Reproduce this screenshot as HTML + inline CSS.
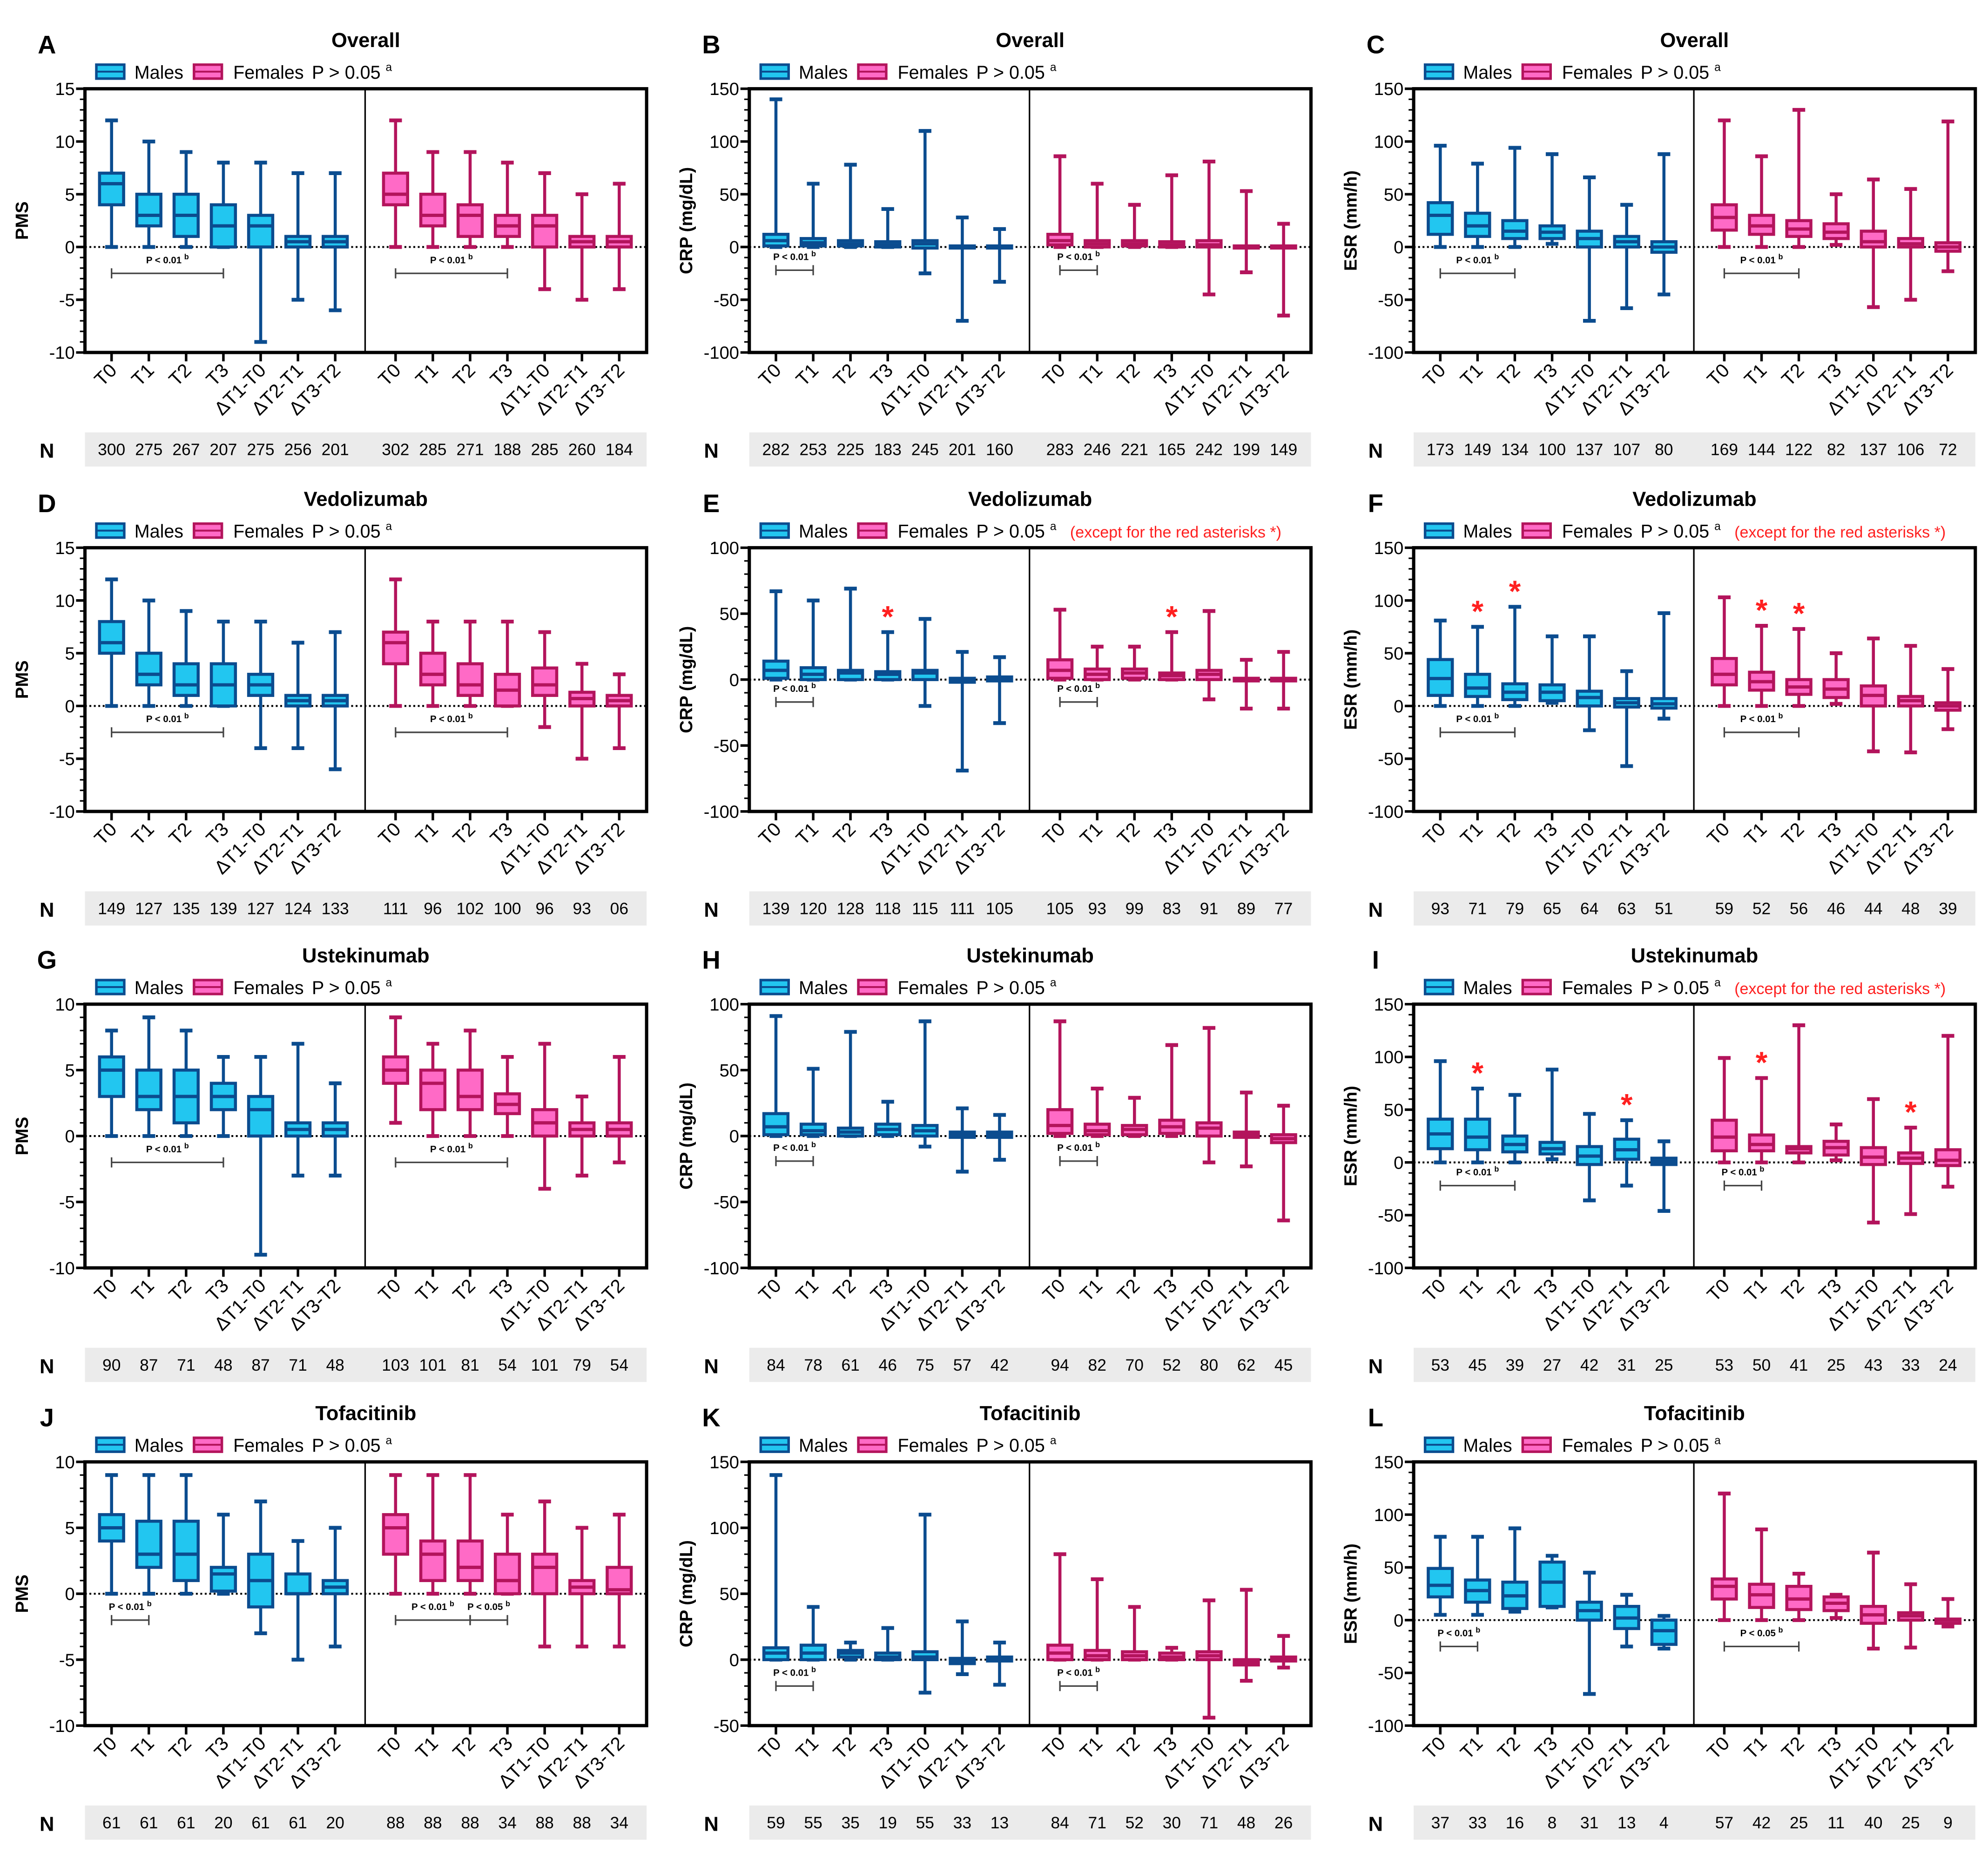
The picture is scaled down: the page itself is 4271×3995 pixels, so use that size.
<!DOCTYPE html>
<html><head><meta charset="utf-8"><style>
html,body{margin:0;padding:0;background:#fff;}
svg{display:block;font-family:"Liberation Sans",sans-serif;}
</style></head><body>
<svg id="fig" width="4271" height="3995" viewBox="0 0 1568 1467" preserveAspectRatio="none" xmlns="http://www.w3.org/2000/svg"></svg>
<script>
const categories = ["T0","T1","T2","T3","ΔT1-T0","ΔT2-T1","ΔT3-T2"];
// [min, q1, median, q3, max]
const A_males=[[0,4,6,7,12],[0,2,3,5,10],[0,1,3,5,9],[0,0,2,4,8],[-9,0,2,3,8],[-5,0,0.5,1,7],[-6,0,0.5,1,7]];
const A_females=[[0,4,5,7,12],[0,2,3,5,9],[0,1,3,4,9],[0,1,2,3,8],[-4,0,2,3,7],[-5,0,0.5,1,5],[-4,0,0.5,1,6]];
const B_males=[[0,1,6,12,140],[0,1,4,8,60],[0,1,3,6,78],[0,0,2,5,36],[-25,-1,3,6,110],[-70,-1,0,1,28],[-33,-1,0,1,17]];
const B_females=[[0,2,6,12,86],[0,0,3,6,60],[0,1,3,6,40],[0,0,2,5,68],[-45,0,2,6,81],[-24,-1,0,1,53],[-65,-1,0,1,22]];
const C_males=[[0,12,30,42,96],[0,10,20,32,79],[0,8,15,25,94],[3,8,14,20,88],[-70,0,8,15,66],[-58,0,5,10,40],[-45,-5,0,5,88]];
const C_females=[[0,16,28,40,120],[0,12,20,30,86],[0,10,17,25,130],[2,8,14,22,50],[-57,0,5,15,64],[-50,0,3,8,55],[-23,-4,0,4,119]];
const D_males=[[0,5,6,8,12],[0,2,3,5,10],[0,1,2,4,9],[0,0,2,4,8],[-4,1,2,3,8],[-4,0,0.5,1,6],[-6,0,0.5,1,7]];
const D_females=[[0,4,6,7,12],[0,2,3,5,8],[0,1,2,4,8],[0,0,1.5,3,8],[-2,1,2,3.6,7],[-5,0,0.7,1.3,4],[-4,0,0.5,1,3]];
const E_males=[[0,1,7,14,67],[0,0,4,9,60],[0,0,5,7,69],[0,0,4,6,36],[-20,0,5,7,46],[-69,-2,-1,1,21],[-33,-1,0,2,17]];
const E_females=[[0,1,7,15,53],[0,0,4,8,25],[0,1,5,8,25],[0,0,3,5,36],[-15,0,4,7,52],[-22,-1,0,1,15],[-22,-1,0,1,21]];
const F_males=[[0,10,26,44,81],[0,9,17,30,75],[0,6,13,21,94],[3,5,13,20,66],[-23,0,8,14,66],[-57,-1,3,7,33],[-12,-2,2,7,88]];
const F_females=[[0,20,30,45,103],[0,15,23,32,76],[0,11,18,25,73],[2,8,16,25,50],[-43,0,10,19,64],[-44,0,5,9,57],[-22,-4,0,3,35]];
const G_males=[[0,3,5,6,8],[0,2,3,5,9],[0,1,3,5,8],[0,2,3,4,6],[-9,0,2,3,6],[-3,0,0.5,1,7],[-3,0,0.5,1,4]];
const G_females=[[1,4,5,6,9],[0,2,4,5,7],[0,2,3,5,8],[0,1.7,2.4,3.2,6],[-4,0,1,2,7],[-3,0,0.5,1,3],[-2,0,0.5,1,6]];
const H_males=[[0,1,7,17,91],[0,1,4,9,51],[0,0,3,6,79],[0,1,5,9,26],[-8,0,4,8,87],[-27,-1,1,3,21],[-18,-1,1,3,16]];
const H_females=[[0,2,8,20,87],[0,1,4,9,36],[0,1,5,8,29],[0,2,7,12,69],[-20,0,6,10,82],[-23,-1,1,3,33],[-64,-5,-2,1,23]];
const I_males=[[0,13,27,41,96],[0,12,24,41,70],[0,10,17,25,64],[3,8,13,19,88],[-36,-2,6,15,46],[-22,3,12,22,40],[-46,-2,1,4,20]];
const I_females=[[0,11,24,40,99],[0,11,17,26,80],[0,9,13,15,130],[2,7,14,20,36],[-57,-2,5,14,60],[-49,-1,4,9,33],[-23,-3,2,12,120]];
const J_males=[[0,4,5,6,9],[0,2,3,5.5,9],[0,1,3,5.5,9],[0,0.2,1.5,2,6],[-3,-1,1,3,7],[-5,0,0,1.5,4],[-4,0,0.5,1,5]];
const J_females=[[0,3,5,6,9],[0,1,3,4,9],[0,1,2,4,9],[0,0,1,3,6],[-4,0,2,3,7],[-4,0,0.5,1,5],[-4,0,0.3,2,6]];
const K_males=[[0,0,5,9,140],[0,0,5,11,40],[0,2,5,7,13],[0,0,2,5,24],[-25,0,2,6,110],[-11,-3,-1,1,29],[-19,-1,0,2,13]];
const K_females=[[0,0,5,11,80],[0,0,3,7,61],[0,0,3,6,40],[0,0,2,5,9],[-44,0,3,6,45],[-16,-4,-2,0,53],[-6,-1,0,2,18]];
const L_males=[[5,22,33,49,79],[5,17,28,38,79],[8,11,23,36,87],[12,13,36,55,61],[-70,0,9,17,45],[-25,-8,2,13,24],[-27,-23,-10,0,4]];
const L_females=[[0,20,32,39,120],[0,12,24,34,86],[0,10,20,32,44],[2,9,16,22,24],[-27,-3,5,13,64],[-26,0,4,7,34],[-6,-3,0,1,20]];
const A_n=[["300","275","267","207","275","256","201"],["302","285","271","188","285","260","184"]];
const B_n=[["282","253","225","183","245","201","160"],["283","246","221","165","242","199","149"]];
const C_n=[["173","149","134","100","137","107","80"],["169","144","122","82","137","106","72"]];
const D_n=[["149","127","135","139","127","124","133"],["111","96","102","100","96","93","06"]];
const E_n=[["139","120","128","118","115","111","105"],["105","93","99","83","91","89","77"]];
const F_n=[["93","71","79","65","64","63","51"],["59","52","56","46","44","48","39"]];
const G_n=[["90","87","71","48","87","71","48"],["103","101","81","54","101","79","54"]];
const H_n=[["84","78","61","46","75","57","42"],["94","82","70","52","80","62","45"]];
const I_n=[["53","45","39","27","42","31","25"],["53","50","41","25","43","33","24"]];
const J_n=[["61","61","61","20","61","61","20"],["88","88","88","34","88","88","34"]];
const K_n=[["59","55","35","19","55","33","13"],["84","71","52","30","71","48","26"]];
const L_n=[["37","33","16","8","31","13","4"],["57","42","25","11","40","25","9"]];

const NS="http://www.w3.org/2000/svg";
const svg=document.getElementById('fig');
function mk(tag,attrs,parent){const e=document.createElementNS(NS,tag);for(const k in attrs)e.setAttribute(k,attrs[k]);(parent||svg).appendChild(e);return e;}
const colX=[67,591,1115], rowY=[70,432,792,1153], PW=443, PH=208;
const MC={fill:"#22c6f0",stroke:"#0b4c8f"}, FC={fill:"#ff6ac6",stroke:"#b3145c"};

const panels=[
 {id:"A",title:"Overall",yl:"PMS",min:-10,max:15,step:5,c:0,r:0,red:false,m:A_males,f:A_females,n:A_n,br:[[0,0,3,-2.5,"P < 0.01"],[1,0,3,-2.5,"P < 0.01"]],ast:[]},
 {id:"B",title:"Overall",yl:"CRP (mg/dL)",min:-100,max:150,step:50,c:1,r:0,red:false,m:B_males,f:B_females,n:B_n,br:[[0,0,1,-22,"P < 0.01"],[1,0,1,-22,"P < 0.01"]],ast:[]},
 {id:"C",title:"Overall",yl:"ESR (mm/h)",min:-100,max:150,step:50,c:2,r:0,red:false,m:C_males,f:C_females,n:C_n,br:[[0,0,2,-25,"P < 0.01"],[1,0,2,-25,"P < 0.01"]],ast:[]},
 {id:"D",title:"Vedolizumab",yl:"PMS",min:-10,max:15,step:5,c:0,r:1,red:false,m:D_males,f:D_females,n:D_n,br:[[0,0,3,-2.5,"P < 0.01"],[1,0,3,-2.5,"P < 0.01"]],ast:[]},
 {id:"E",title:"Vedolizumab",yl:"CRP (mg/dL)",min:-100,max:100,step:50,c:1,r:1,red:true,m:E_males,f:E_females,n:E_n,br:[[0,0,1,-17,"P < 0.01"],[1,0,1,-17,"P < 0.01"]],ast:[[0,3],[1,3]]},
 {id:"F",title:"Vedolizumab",yl:"ESR (mm/h)",min:-100,max:150,step:50,c:2,r:1,red:true,m:F_males,f:F_females,n:F_n,br:[[0,0,2,-25,"P < 0.01"],[1,0,2,-25,"P < 0.01"]],ast:[[0,1],[0,2],[1,1],[1,2]]},
 {id:"G",title:"Ustekinumab",yl:"PMS",min:-10,max:10,step:5,c:0,r:2,red:false,m:G_males,f:G_females,n:G_n,br:[[0,0,3,-2,"P < 0.01"],[1,0,3,-2,"P < 0.01"]],ast:[]},
 {id:"H",title:"Ustekinumab",yl:"CRP (mg/dL)",min:-100,max:100,step:50,c:1,r:2,red:false,m:H_males,f:H_females,n:H_n,br:[[0,0,1,-19,"P < 0.01"],[1,0,1,-19,"P < 0.01"]],ast:[]},
 {id:"I",title:"Ustekinumab",yl:"ESR (mm/h)",min:-100,max:150,step:50,c:2,r:2,red:true,m:I_males,f:I_females,n:I_n,br:[[0,0,2,-22,"P < 0.01"],[1,0,1,-22,"P < 0.01"]],ast:[[0,1],[0,5],[1,1],[1,5]]},
 {id:"J",title:"Tofacitinib",yl:"PMS",min:-10,max:10,step:5,c:0,r:3,red:false,m:J_males,f:J_females,n:J_n,br:[[0,0,1,-2,"P < 0.01"],[1,0,2,-2,"P < 0.01"],[1,2,3,-2,"P < 0.05"]],ast:[]},
 {id:"K",title:"Tofacitinib",yl:"CRP (mg/dL)",min:-50,max:150,step:50,c:1,r:3,red:false,m:K_males,f:K_females,n:K_n,br:[[0,0,1,-20,"P < 0.01"],[1,0,1,-20,"P < 0.01"]],ast:[]},
 {id:"L",title:"Tofacitinib",yl:"ESR (mm/h)",min:-100,max:150,step:50,c:2,r:3,red:false,m:L_males,f:L_females,n:L_n,br:[[0,0,1,-25,"P < 0.01"],[1,0,2,-25,"P < 0.05"]],ast:[]}
];

panels.forEach(p=>{
 const L=colX[p.c], R=L+PW, T=rowY[p.r], B=T+PH, D=L+221;
 const y=v=>B-(v-p.min)/(p.max-p.min)*PH;
 const xs=(g,i)=>(g===0?L+21:D+24)+i*29.4;
 const g=mk('g',{});
 
 
 let t=mk('text',{x:L-30,y:T-28,'font-size':20,'font-weight':'bold','text-anchor':'middle'},g);t.textContent=p.id;
 
 
 t=mk('text',{x:(L+R)/2,y:T-33,'font-size':16,'font-weight':'bold','text-anchor':'middle'},g);t.textContent=p.title;
 
 
 const lg=mk('g',{},g);
 
 
 [[MC,L+9,"Males",L+39],[FC,L+86,"Females",L+117]].forEach(([c,sx,lab,tx],k)=>{
  const s=mk('rect',{x:sx,y:T-19,width:22,height:11,fill:c.fill,stroke:c.stroke,'stroke-width':2},lg);
  
  
  mk('line',{x1:sx,x2:sx+22,y1:T-13.5,y2:T-13.5,stroke:c.stroke,'stroke-width':1.5},lg);
  const tt=mk('text',{x:tx,y:T-8,'font-size':14.5},lg);tt.textContent=lab;
  
  
 });
 t=mk('text',{x:L+179,y:T-8,'font-size':14.5},lg);
 t.innerHTML='P &gt; 0.05 <tspan font-size="9" dy="-6">a</tspan>';
 
 
 if(p.red){t=mk('text',{x:L+253,y:T-8,'font-size':12.5,fill:'#ff2020'},lg);t.textContent='(except for the red asterisks *)';
  
  }
 const fr=mk('rect',{x:L,y:T,width:PW,height:PH,fill:'none',stroke:'#000','stroke-width':2.6},g);
 
 
 mk('line',{x1:D,x2:D,y1:T,y2:B,stroke:'#000','stroke-width':1.2},g);
 const minor=p.step/5;
 for(let v=p.min;v<=p.max+1e-9;v+=minor){mk('line',{x1:L-4,x2:L,y1:y(v),y2:y(v),stroke:'#000','stroke-width':1.2},g);}
 for(let v=p.min;v<=p.max;v+=p.step){
  mk('line',{x1:L-7,x2:L,y1:y(v),y2:y(v),stroke:'#000','stroke-width':2},g);
  const tl=mk('text',{x:L-8,y:y(v)+5,'font-size':14,'text-anchor':'end'},g);tl.textContent=v;
  
  
 }
 t=mk('text',{x:L-45,y:(T+B)/2,'font-size':14,'font-weight':'bold','text-anchor':'middle',transform:`rotate(-90 ${L-45} ${(T+B)/2})`},g);t.textContent=p.yl;
 
 
 const z=mk('line',{x1:L,x2:R,y1:y(0),y2:y(0),stroke:'#000','stroke-width':1.5,'stroke-dasharray':'1.5 2'},g);
 
 
 const nb=mk('rect',{x:L,y:T+271,width:PW,height:27,fill:'#ebebeb'},g);
 
 
 t=mk('text',{x:L-30,y:T+291,'font-size':16,'font-weight':'bold','text-anchor':'middle'},g);t.textContent='N';
 
 
 [p.m,p.f].forEach((data,gi)=>{
  const c=gi?FC:MC;
  data.forEach((d,i)=>{
   const x=xs(gi,i);
   mk('line',{x1:x,x2:x,y1:B,y2:B+7,stroke:'#000','stroke-width':2},g);
   const xl=mk('text',{x:x+5,y:B+15,'font-size':15,'text-anchor':'end',transform:`rotate(-45 ${x+5} ${B+15})`},g);xl.textContent=categories[i];
   
   
   const nt=mk('text',{x:x,y:T+289,'font-size':13,'text-anchor':'middle'},g);nt.textContent=p.n[gi][i];
   
   
   const bx=mk('g',{},g);
   
   
   const [mn,q1,md,q3,mx]=d;
   mk('line',{x1:x,x2:x,y1:y(mx),y2:y(mn),stroke:c.stroke,'stroke-width':2.4},bx);
   mk('line',{x1:x-5,x2:x+5,y1:y(mx),y2:y(mx),stroke:c.stroke,'stroke-width':3},bx);
   mk('line',{x1:x-5,x2:x+5,y1:y(mn),y2:y(mn),stroke:c.stroke,'stroke-width':3},bx);
   mk('rect',{x:x-9.5,y:y(q3),width:19,height:Math.max(1,y(q1)-y(q3)),fill:c.fill,stroke:c.stroke,'stroke-width':2.4},bx);
   mk('line',{x1:x-9.5,x2:x+9.5,y1:y(md),y2:y(md),stroke:c.stroke,'stroke-width':2.6},bx);
  });
 });
 p.ast.forEach(([gi,i])=>{
  const a=mk('text',{x:xs(gi,i),y:y((gi?p.f:p.m)[i][4])-4,'font-size':24,'font-weight':'bold',fill:'#ff2020','text-anchor':'middle'},g);a.textContent='*';
  
  
 });
 p.br.forEach(([gi,i0,i1,v,lab])=>{
  const x0=xs(gi,i0),x1=xs(gi,i1),yy=y(v);
  const bg=mk('g',{},g);
  
  
  mk('line',{x1:x0,x2:x1,y1:yy,y2:yy,stroke:'#444','stroke-width':1.2},bg);
  mk('line',{x1:x0,x2:x0,y1:yy-4,y2:yy+4,stroke:'#444','stroke-width':1.2},bg);
  mk('line',{x1:x1,x2:x1,y1:yy-4,y2:yy+4,stroke:'#444','stroke-width':1.2},bg);
  const bt=mk('text',{x:(x0+x1)/2,y:yy-8,'font-size':7.5,'font-weight':'bold','text-anchor':'middle'},bg);
  bt.innerHTML=lab+' <tspan font-size="6" dy="-3">b</tspan>';
 });
});
</script>
</body></html>
